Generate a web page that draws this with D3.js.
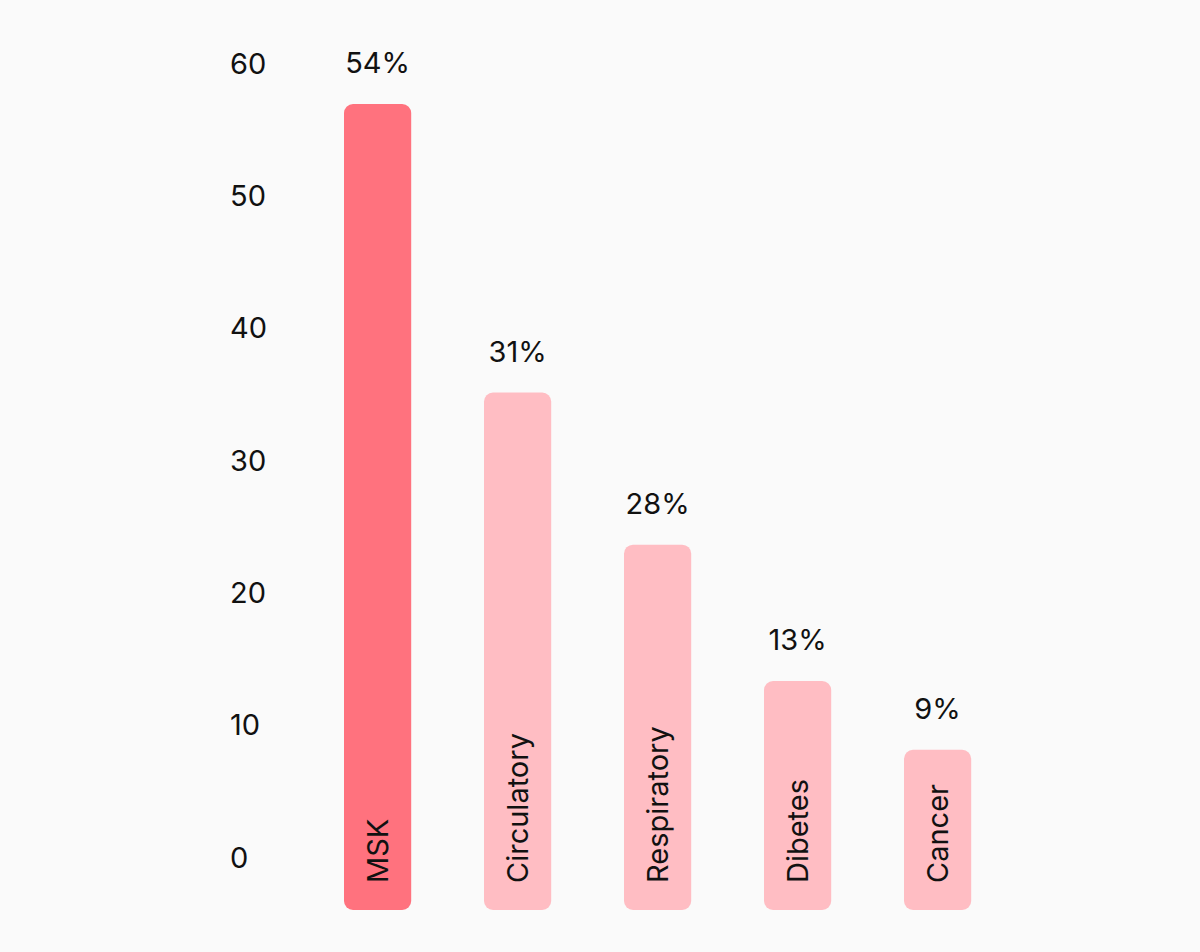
<!DOCTYPE html>
<html>
<head>
<meta charset="utf-8">
<script src="https://cdn.jsdelivr.net/npm/d3@7"></script>
<style>
  html, body { margin: 0; padding: 0; background: #fafafa; }
  svg { display: block; }
  text { font-family: "Inter", "Open Sans", sans-serif; fill: #111; }
</style>
</head>
<body>
<div id="chart"></div>
<script>
const categories = ["MSK", "Circulatory", "Respiratory", "Dibetes", "Cancer"];
const barValues = [56.9, 35.1, 23.6, 13.3, 8.1];
const valueLabels = ["54%", "31%", "28%", "13%", "9%"];
const barColors = ["#ff727e", "#ffbdc3", "#ffbdc3", "#ffbdc3", "#ffbdc3"];
const yTicks = [0, 10, 20, 30, 40, 50, 60];

const W = 1200, H = 952;
const svg = d3.select("#chart").append("svg").attr("width", W).attr("height", H);
svg.append("rect").attr("width", W).attr("height", H).attr("fill", "#fafafa");

const y = d3.scaleLinear().domain([-4, 60]).range([910, 63]);
const x = d3.scaleBand().domain(categories).range([307.6, 1007.6])
  .paddingInner(0.52).paddingOuter(0.26);

// y axis labels
const yAxis = d3.axisLeft(y).tickValues(yTicks).tickSize(0).tickPadding(0);
const gy = svg.append("g").attr("transform", "translate(230,0)").call(yAxis);
gy.select(".domain").remove();
gy.selectAll("text")
  .attr("text-anchor", "start")
  .attr("x", 0)
  .attr("dy", "0.35em")
  .style("font-size", "29px")
  .style("fill", "#111")
  .style("font-family", "Inter, 'Open Sans', sans-serif");

const data = categories.map((c, i) => ({ c, v: barValues[i], l: valueLabels[i], col: barColors[i] }));

svg.selectAll("rect.bar").data(data).enter().append("rect")
  .attr("class", "bar")
  .attr("x", d => x(d.c))
  .attr("width", x.bandwidth())
  .attr("y", d => y(d.v))
  .attr("height", d => y(-4) - y(d.v))
  .attr("rx", 9).attr("ry", 9)
  .attr("fill", d => d.col);

svg.selectAll("text.vlabel").data(data).enter().append("text")
  .attr("class", "vlabel")
  .attr("x", d => x(d.c) + x.bandwidth() / 2)
  .attr("y", d => y(d.v) - 41)
  .attr("dy", "0.35em")
  .attr("text-anchor", "middle")
  .style("font-size", "29px")
  .text(d => d.l);

svg.selectAll("text.clabel").data(data).enter().append("text")
  .attr("class", "clabel")
  .attr("transform", d => `translate(${x(d.c) + x.bandwidth() / 2},883) rotate(-90)`)
  .attr("x", 0).attr("y", 0)
  .attr("dy", "0.35em")
  .attr("text-anchor", "start")
  .style("font-size", "29px")
  .text(d => d.c);
</script>
</body>
</html>
